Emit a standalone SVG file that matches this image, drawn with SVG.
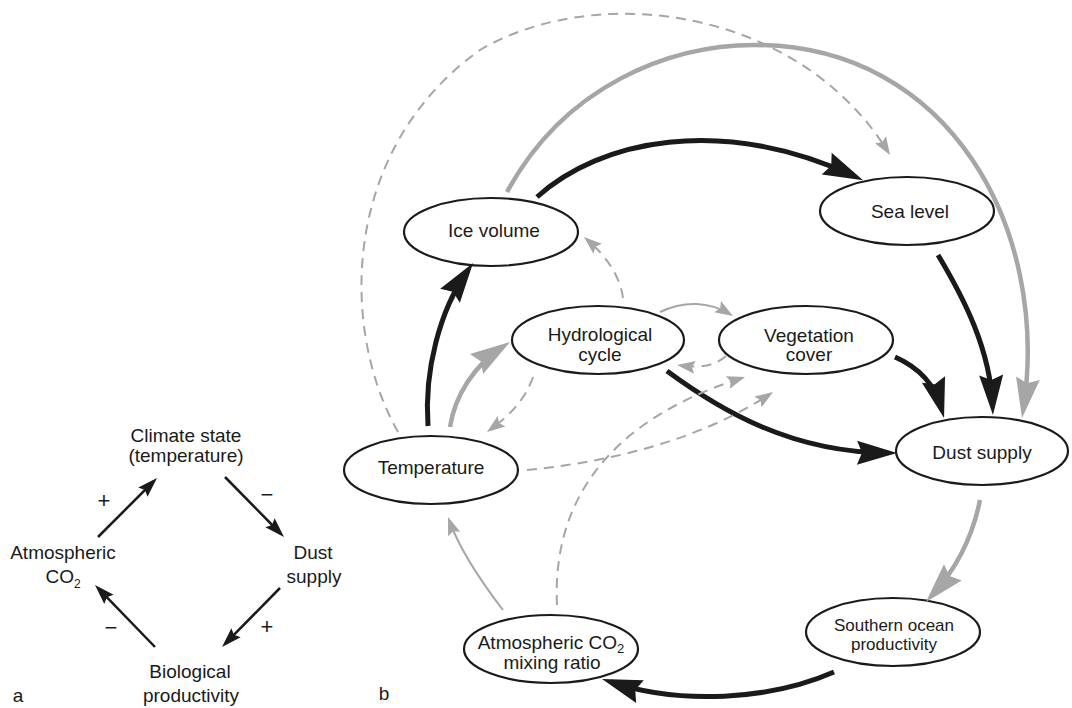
<svg xmlns="http://www.w3.org/2000/svg" width="1072" height="708" viewBox="0 0 1072 708">
<style>
text{font-family:"Liberation Sans",Arial,sans-serif;fill:#1a1a1a;font-size:19px;text-anchor:middle}
.sm{font-size:17px}
.sg{font-size:22px}
.node ellipse{fill:#fff;stroke:#1a1a1a;stroke-width:2.2}
.k{fill:none;stroke:#1a1a1a;stroke-width:5;marker-end:url(#hk)}
.g{fill:none;stroke:#a6a6a6;stroke-width:4.5;marker-end:url(#hg)}
.t{fill:none;stroke:#a6a6a6;stroke-width:2;marker-end:url(#ht)}
.d{fill:none;stroke:#a6a6a6;stroke-width:2;stroke-dasharray:10 7;marker-end:url(#ht)}
.a{fill:none;stroke:#1a1a1a;stroke-width:2.5;marker-end:url(#ha)}
</style>
<defs>
<marker id="hk" markerUnits="userSpaceOnUse" viewBox="-42 -14 44 28" refX="-10" refY="0" markerWidth="44" markerHeight="28" orient="auto"><path d="M0,0 L-40,-12 L-35,0 L-40,12 Z" fill="#1a1a1a"/></marker>
<marker id="hg" markerUnits="userSpaceOnUse" viewBox="-42 -14 44 28" refX="-10" refY="0" markerWidth="44" markerHeight="28" orient="auto"><path d="M0,0 L-40,-12 L-35,0 L-40,12 Z" fill="#a6a6a6"/></marker>
<marker id="ht" markerUnits="userSpaceOnUse" viewBox="-20 -8 22 16" refX="-4" refY="0" markerWidth="22" markerHeight="16" orient="auto"><path d="M0,0 L-18,-6.5 L-15,0 L-18,6.5 Z" fill="#a6a6a6"/></marker>
<marker id="ha" markerUnits="userSpaceOnUse" viewBox="-22 -8 24 16" refX="-5" refY="0" markerWidth="24" markerHeight="16" orient="auto"><path d="M0,0 L-20,-6.5 L-17,0 L-20,6.5 Z" fill="#1a1a1a"/></marker>
</defs>

<!-- Panel a -->
<g id="a-climate"><text x="186" y="442">Climate state</text><text x="186" y="462">(temperature)</text></g>
<g id="a-dust"><text x="313" y="559">Dust</text><text x="314" y="583">supply</text></g>
<g id="a-bio"><text x="190" y="678">Biological</text><text x="191" y="702">productivity</text></g>
<g id="a-co2"><text x="63" y="559">Atmospheric</text><text x="63" y="583">CO<tspan font-size="12" dy="5">2</tspan></text></g>
<g id="a-connectors">
<path class="a" d="M98,537 L153.5,481.5"/>
<path class="a" d="M225,477 L280.5,533.5"/>
<path class="a" d="M280,588 L225.5,643.4"/>
<path class="a" d="M155,647 L98.5,588.6"/>
</g>
<g id="a-signs">
<text class="sg" x="104" y="508">+</text>
<text class="sg" x="267" y="502">−</text>
<text class="sg" x="267" y="634">+</text>
<text class="sg" x="111" y="635">−</text>
</g>
<text x="18" y="702">a</text>
<text x="384" y="700">b</text>

<!-- Panel b nodes -->
<g id="n-ice" class="node"><ellipse cx="491" cy="232" rx="87" ry="34"/><text x="494" y="237">Ice volume</text></g>
<g id="n-sea" class="node"><ellipse cx="907" cy="211" rx="87" ry="34"/><text x="910" y="218">Sea level</text></g>
<g id="n-hydro" class="node"><ellipse cx="598" cy="340" rx="86" ry="34"/><text x="600" y="341">Hydrological</text><text x="600" y="361">cycle</text></g>
<g id="n-veg" class="node"><ellipse cx="806" cy="340" rx="87" ry="34"/><text x="809" y="342">Vegetation</text><text x="809" y="361">cover</text></g>
<g id="n-dust" class="node"><ellipse cx="982" cy="451" rx="86" ry="34"/><text x="982" y="459">Dust supply</text></g>
<g id="n-temp" class="node"><ellipse cx="431" cy="470" rx="87" ry="34"/><text x="431" y="474">Temperature</text></g>
<g id="n-so" class="node"><ellipse cx="893" cy="632" rx="87" ry="34"/><text class="sm" x="894" y="631">Southern ocean</text><text class="sm" x="894" y="650">productivity</text></g>
<g id="n-co2" class="node"><ellipse cx="551" cy="649" rx="87" ry="34"/><text x="551" y="649">Atmospheric CO<tspan font-size="13" dy="4">2</tspan></text><text x="552" y="669">mixing ratio</text></g>

<!-- Panel b connectors -->
<g id="b-connectors">
<path class="d" d="M398,432 C340,330 340,150 480,50 C600,-20 800,10 887.9,151.6"/>
<path class="g" d="M507,192 C565,85 670,45 755,45 C950,45 1050,230 1023.5,408"/>
<path class="k" d="M537,197 C600,140 720,115 854,176"/>
<path class="k" d="M938,255 C965,300 990,350 992.5,405"/>
<path class="k" d="M428,426 C424,370 440,310 467.3,271.2"/>
<path class="g" d="M450,427 C455,395 475,365 501.6,347.5"/>
<path class="d" d="M533,377 C525,400 510,415 490.2,429.6"/>
<path class="d" d="M623,298 C620,275 605,255 587,239.6"/>
<path class="t" d="M660,312 C685,300 710,302 729.6,313.9"/>
<path class="d" d="M726,356 C715,366 700,368 681,365.5"/>
<path class="k" d="M667,371 C720,410 790,452 887,453"/>
<path class="k" d="M895,357 C920,368 935,385 941.4,408.4"/>
<path class="d" d="M527,470 C610,462 700,440 769.7,394.2"/>
<path class="d" d="M557,605 C552,500 610,420 741.2,378.2"/>
<path class="t" d="M503,610 C480,580 460,550 449.4,520.8"/>
<path class="g" d="M980,500 C972,540 955,570 932.7,594.6"/>
<path class="k" d="M834,672 C770,700 680,705 611.5,682.2"/>
</g>
</svg>
